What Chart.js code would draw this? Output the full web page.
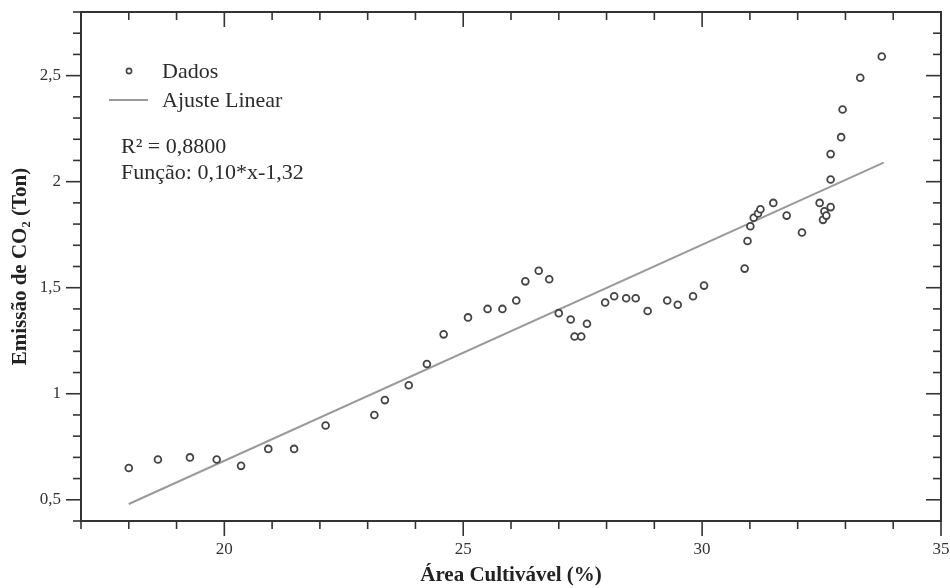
<!DOCTYPE html>
<html>
<head>
<meta charset="utf-8">
<script src="https://cdn.jsdelivr.net/npm/chart.js@4/dist/chart.umd.min.js"></script>
<style>
  html, body { margin: 0; padding: 0; background: #fff; }
  canvas { display: block; }
</style>
</head>
<body>
<canvas id="chart" width="950" height="588"></canvas>
<script>
// data
const areaX = [18.0, 18.61, 19.28, 19.84, 20.35, 20.92, 21.46, 22.12, 23.14, 23.36,
  23.86, 24.24, 24.59, 25.10, 25.51, 25.82, 26.11, 26.30, 26.58, 26.80,
  27.00, 27.25, 27.33, 27.47, 27.59, 27.97, 28.16, 28.41, 28.61, 28.86,
  29.27, 29.49, 29.81, 30.04, 30.89, 30.95, 31.01, 31.08, 31.17, 31.22,
  31.49, 31.77, 32.09, 32.46, 32.53, 32.56, 32.60, 32.69, 32.69, 32.69,
  32.91, 32.94, 33.31, 33.76];
const co2Y = [0.65, 0.69, 0.70, 0.69, 0.66, 0.74, 0.74, 0.85, 0.90, 0.97,
  1.04, 1.14, 1.28, 1.36, 1.40, 1.40, 1.44, 1.53, 1.58, 1.54,
  1.38, 1.35, 1.27, 1.27, 1.33, 1.43, 1.46, 1.45, 1.45, 1.39,
  1.44, 1.42, 1.46, 1.51, 1.59, 1.72, 1.79, 1.83, 1.85, 1.87,
  1.90, 1.84, 1.76, 1.90, 1.82, 1.86, 1.84, 1.88, 2.01, 2.13,
  2.21, 2.34, 2.49, 2.59];
const fitX = [18.0, 33.8];
const fitY = [0.48, 2.09];

const xMajorTicks = [20, 25, 30, 35];
const yMajorTicks = [0.5, 1, 1.5, 2, 2.5];
const legendLabels = ["Dados", "Ajuste Linear"];
const statLines = ["R\u00B2 = 0,8800", "Fun\u00E7\u00E3o: 0,10*x-1,32"];

const SERIF = '"Liberation Serif", "Times New Roman", serif';
Chart.defaults.font.family = SERIF;
Chart.defaults.color = "#2b2b2b";

const isMajor = (list, v) => list.some(m => Math.abs(m - v) < 1e-6);
const fmt = v => String(+v.toFixed(1)).replace(".", ",");

// frame + tick marks (outward left/bottom, inward top/right)
const frameTicks = {
  id: "frameTicks",
  afterDraw(chart) {
    const { ctx, chartArea: a, scales: { x, y } } = chart;
    ctx.save();
    ctx.strokeStyle = "#333";
    ctx.lineWidth = 1.6;
    const seg = (x1, y1, x2, y2) => { ctx.beginPath(); ctx.moveTo(x1, y1); ctx.lineTo(x2, y2); ctx.stroke(); };
    x.ticks.forEach(t => {
      const px = x.getPixelForValue(t.value);
      const len = isMajor(xMajorTicks, t.value) ? 15 : 8;
      seg(px, a.bottom, px, a.bottom + len);
      seg(px, a.top, px, a.top + len);
    });
    y.ticks.forEach(t => {
      const py = y.getPixelForValue(t.value);
      const len = isMajor(yMajorTicks, t.value) ? 15 : 8;
      seg(a.left, py, a.left - len, py);
      seg(a.right, py, a.right - len, py);
    });
    ctx.lineWidth = 2;
    ctx.strokeRect(a.left, a.top, a.right - a.left, a.bottom - a.top);
    ctx.restore();
  }
};

// legend and fit statistics inside the plot
const insideLegend = {
  id: "insideLegend",
  afterDraw(chart) {
    const { ctx } = chart;
    ctx.save();
    ctx.fillStyle = "#2b2b2b";
    ctx.font = "22px " + SERIF;
    ctx.textBaseline = "middle";
    ctx.textAlign = "left";

    ctx.beginPath();
    ctx.arc(129, 71, 2.6, 0, Math.PI * 2);
    ctx.strokeStyle = "#444";
    ctx.lineWidth = 1.6;
    ctx.stroke();
    ctx.fillText(legendLabels[0], 162, 72);

    ctx.beginPath();
    ctx.moveTo(109, 100);
    ctx.lineTo(148, 100);
    ctx.strokeStyle = "#9a9a9a";
    ctx.lineWidth = 2;
    ctx.stroke();
    ctx.fillText(legendLabels[1], 162, 101);

    ctx.fillText(statLines[0], 121, 147);
    ctx.fillText(statLines[1], 121, 173);
    ctx.restore();
  }
};

new Chart(document.getElementById("chart"), {
  type: "scatter",
  data: {
    datasets: [
      {
        label: legendLabels[0],
        data: areaX.map((v, i) => ({ x: v, y: co2Y[i] })),
        pointStyle: "circle",
        pointRadius: 3.4,
        pointBorderWidth: 1.8,
        pointBorderColor: "#444",
        pointBackgroundColor: "#fff",
        showLine: false
      },
      {
        label: legendLabels[1],
        type: "line",
        data: fitX.map((v, i) => ({ x: v, y: fitY[i] })),
        borderColor: "#9a9a9a",
        borderWidth: 2,
        pointRadius: 0,
        fill: false
      }
    ]
  },
  options: {
    responsive: false,
    animation: false,
    layout: { padding: { top: 12, right: 9, left: 0, bottom: 0 } },
    plugins: { legend: { display: false }, tooltip: { enabled: false } },
    scales: {
      x: {
        type: "linear",
        min: 17, max: 35,
        grid: { display: false },
        border: { display: false },
        ticks: {
          stepSize: 1,
          padding: 10,
          font: { size: 17 },
          color: "#333",
          maxRotation: 0,
          autoSkip: false,
          callback: v => isMajor(xMajorTicks, v) ? String(v) : ""
        },
        title: {
          display: true,
          text: "\u00C1rea Cultiv\u00E1vel (%)",
          font: { size: 21, weight: "bold" },
          color: "#222",
          padding: { top: 0, bottom: 0 }
        },
        afterFit: s => { s.height = 67; s.paddingLeft = 0; s.paddingRight = 0; }
      },
      y: {
        type: "linear",
        min: 0.4, max: 2.8,
        grid: { display: false },
        border: { display: false },
        ticks: {
          stepSize: 0.1,
          padding: 12,
          font: { size: 17 },
          color: "#333",
          autoSkip: false,
          callback: v => isMajor(yMajorTicks, v) ? fmt(v) : ""
        },
        title: {
          display: true,
          text: "Emiss\u00E3o de CO\u2082 (Ton)",
          font: { size: 21, weight: "bold" },
          color: "#222",
          padding: { top: 8, bottom: 0 }
        },
        afterFit: s => { s.width = 81; s.paddingTop = 0; s.paddingBottom = 0; }
      }
    }
  },
  plugins: [frameTicks, insideLegend]
});
</script>
</body>
</html>
